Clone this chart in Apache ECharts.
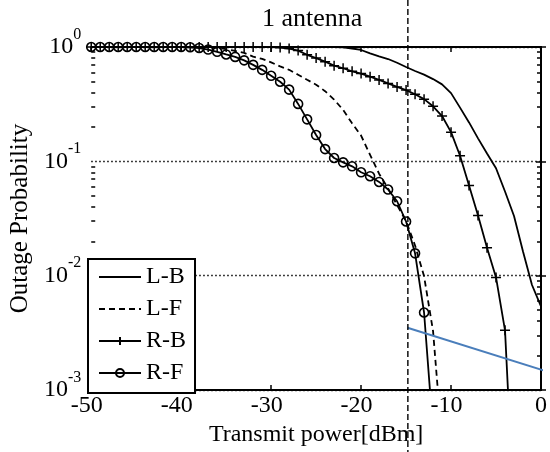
<!DOCTYPE html>
<html>
<head>
<meta charset="utf-8">
<script src="https://cdn.jsdelivr.net/npm/echarts@6/dist/echarts.min.js"></script>
<style>
  html, body { margin: 0; padding: 0; background: #fff; }
  #chart { width: 550px; height: 452px; }
</style>
</head>
<body>
<div id="chart"></div>
<script>
// transmit power [dBm]
const power = [-50, -49, -48, -47, -46, -45, -44, -43, -42, -41,
  -40, -39, -38, -37, -36, -35, -34, -33, -32, -31,
  -30, -29, -28, -27, -26, -25, -24, -23, -22, -21,
  -20, -19, -18, -17, -16, -15, -14, -13, -12, -11,
  -10, -9, -8, -7, -6, -5, -4, -3, -2, -1, 0];

// outage probability, null = below plot range
const lB = [1, 1, 1, 1, 1, 1, 1, 1, 1, 1,
  1, 1, 1, 1, 1, 1, 1, 1, 1, 1,
  1, 1, 1, 1, 1, 1, 1, 1, 0.995, 0.97,
  0.942, 0.88, 0.827, 0.785, 0.728, 0.668, 0.617, 0.573, 0.524, 0.471,
  0.395, 0.295, 0.219, 0.159, 0.117, 0.087, 0.0545, 0.0333, 0.0163, 0.0083, 0.0054];

const lF = [1, 1, 1, 1, 1, 1, 1, 1, 1, 1,
  1, 1, 1, 1, 0.985, 0.96, 0.923, 0.887, 0.824, 0.787,
  0.734, 0.677, 0.632, 0.572, 0.517, 0.468, 0.411, 0.347, 0.282, 0.215,
  0.168, 0.114, 0.078, 0.058, 0.0415, 0.0301, 0.0184, 0.0099, 0.00328, 0.00035,
  null, null, null, null, null, null, null, null, null, null, null];

const rB = [1, 1, 1, 1, 1, 1, 1, 1, 1, 1,
  1, 1, 1, 1, 1, 1, 1, 1, 1, 1,
  1, 0.99, 0.97, 0.93, 0.855, 0.8, 0.744, 0.687, 0.652, 0.613,
  0.586, 0.55, 0.515, 0.48, 0.448, 0.42, 0.386, 0.35, 0.303, 0.249,
  0.18, 0.112, 0.0614, 0.0337, 0.0176, 0.00966, 0.00333, 0.000085, null, null, null];

const rF = [1, 1, 1, 1, 1, 1, 1, 1, 1, 1,
  1, 0.995, 0.98, 0.95, 0.908, 0.861, 0.819, 0.764, 0.698, 0.631,
  0.56, 0.497, 0.424, 0.318, 0.233, 0.17, 0.128, 0.107, 0.098, 0.0905,
  0.0803, 0.0741, 0.0661, 0.0567, 0.0448, 0.0298, 0.0157, 0.00477, 0.00044, null,
  null, null, null, null, null, null, null, null, null, null, null];

// blue reference line and the vertical marker
const blueX = [-14.84, 0.71];
const blueY = [0.00351, 0.00145];
const markX = [-14.8];

const decades = [0.001, 0.01, 0.1, 1];
const mults = [2, 3, 4, 5, 6, 7, 8, 9];

const font = 'Liberation Serif';

function pairs(ys) {
  const out = [];
  ys.forEach((y, i) => { if (y != null) out.push([power[i], y]); });
  return out;
}

// minor ticks of the log axis
const minorVals = [];
decades.slice(0, 3).forEach(d => mults.forEach(m => minorVals.push(+(d * m).toPrecision(3))));

const chart = echarts.init(document.getElementById('chart'));

const axisLine = { show: true, lineStyle: { color: '#000', width: 2 } };
const tickStyle = { color: '#000', width: 1.5 };

function logAxis(pos, extra) {
  return Object.assign({
    type: 'log',
    logBase: 10,
    min: 0.001, max: 1,
    position: pos,
    axisLine: axisLine,
    axisTick: { inside: true, length: 5, customValues: decades, lineStyle: tickStyle },
    axisLabel: { show: false },
    splitLine: { show: false }
  }, extra);
}

function minorAxis(pos) {
  return logAxis(pos, {
    axisLine: { show: false },
    axisTick: { inside: true, length: 4, customValues: minorVals, lineStyle: tickStyle }
  });
}

chart.setOption({
  animation: false,
  backgroundColor: '#fff',
  title: {
    text: '1 antenna',
    left: 262,
    top: 6,
    padding: 0,
    textStyle: { fontFamily: font, fontSize: 26, fontWeight: 'normal', color: '#000' }
  },
  grid: { left: 88, right: 7, top: 47, bottom: 59 },
  legend: {
    orient: 'vertical',
    left: 88,
    top: 259,
    itemWidth: 42,
    itemHeight: 10,
    itemGap: 8,
    padding: [6, 9, 8, 10],
    backgroundColor: '#fff',
    borderColor: '#000',
    borderWidth: 2,
    textStyle: { fontFamily: font, fontSize: 24, color: '#000' },
    data: [
      { name: 'L-B', itemStyle: { opacity: 0 } },
      { name: 'L-F', itemStyle: { opacity: 0 } },
      'R-B',
      'R-F'
    ]
  },
  xAxis: [{
    type: 'value',
    min: -50, max: 0, interval: 10,
    name: 'Transmit power[dBm]',
    nameLocation: 'middle',
    nameGap: 26,
    nameTextStyle: { fontFamily: font, fontSize: 24, color: '#000' },
    axisLine: axisLine,
    axisTick: { inside: true, length: 5, lineStyle: tickStyle },
    axisLabel: {
      margin: 4,
      fontFamily: font, fontSize: 24, color: '#000',
      formatter: v => (v < 0 ? v + '{p|}' : '' + v),
      rich: { p: { width: 9 } }
    },
    splitLine: { show: false }
  }, {
    type: 'value',
    position: 'top',
    min: -50, max: 0, interval: 10,
    axisLine: axisLine,
    axisTick: { inside: true, length: 5, lineStyle: tickStyle },
    axisLabel: { show: false },
    splitLine: { show: false }
  }],
  yAxis: [
    logAxis('left', {
      name: 'Outage Probability',
      nameLocation: 'middle',
      nameGap: 52,
      nameTextStyle: { fontFamily: font, fontSize: 25, color: '#000' },
      axisLabel: {
        margin: 10,
        customValues: decades,
        formatter: v => '{b|10}{s|' + Math.round(Math.log10(v)) + '}',
        rich: {
          b: { fontFamily: font, fontSize: 24, color: '#000', lineHeight: 41 },
          s: { fontFamily: font, fontSize: 16, color: '#000', verticalAlign: 'top' }
        }
      },
      splitLine: { show: true, lineStyle: { color: '#000', width: 1.3, type: [1.5, 2.5] } }
    }),
    logAxis('right'),
    minorAxis('left'),
    minorAxis('right')
  ],
  series: [{
    name: 'L-B',
    type: 'line',
    data: pairs(lB),
    symbol: 'none',
    color: '#000',
    lineStyle: { color: '#000', width: 1.8 }
  }, {
    name: 'L-F',
    type: 'line',
    data: pairs(lF),
    symbol: 'none',
    color: '#000',
    lineStyle: { color: '#000', width: 1.8, type: [6, 4] }
  }, {
    name: 'R-B',
    type: 'line',
    data: pairs(rB),
    symbol: 'path://M5,0L5,10M0,5L10,5',
    symbolSize: 10,
    color: '#000',
    itemStyle: { color: '#000', borderColor: '#000', borderWidth: 1.5 },
    lineStyle: { color: '#000', width: 1.8 }
  }, {
    name: 'R-F',
    type: 'line',
    data: pairs(rF),
    symbol: 'circle',
    symbolSize: 9,
    color: '#000',
    itemStyle: { color: 'rgba(0,0,0,0)', borderColor: '#000', borderWidth: 1.6 },
    lineStyle: { color: '#000', width: 1.8 }
  }, {
    name: 'blue',
    type: 'line',
    data: blueX.map((x, i) => [x, blueY[i]]),
    symbol: 'none',
    clip: false,
    lineStyle: { color: '#4a7ebb', width: 2 },
    z: 3
  }, {
    name: 'marker',
    type: 'custom',
    clip: false,
    data: markX.map(x => [x, 0.01]),
    renderItem: (params, api) => {
      const x = api.coord([api.value(0), api.value(1)])[0];
      return {
        type: 'line',
        shape: { x1: x, y1: 0, x2: x, y2: api.getHeight() },
        style: { stroke: '#000', lineWidth: 1.4, lineDash: [6, 3] }
      };
    },
    z: 5
  }]
});
</script>
</body>
</html>
